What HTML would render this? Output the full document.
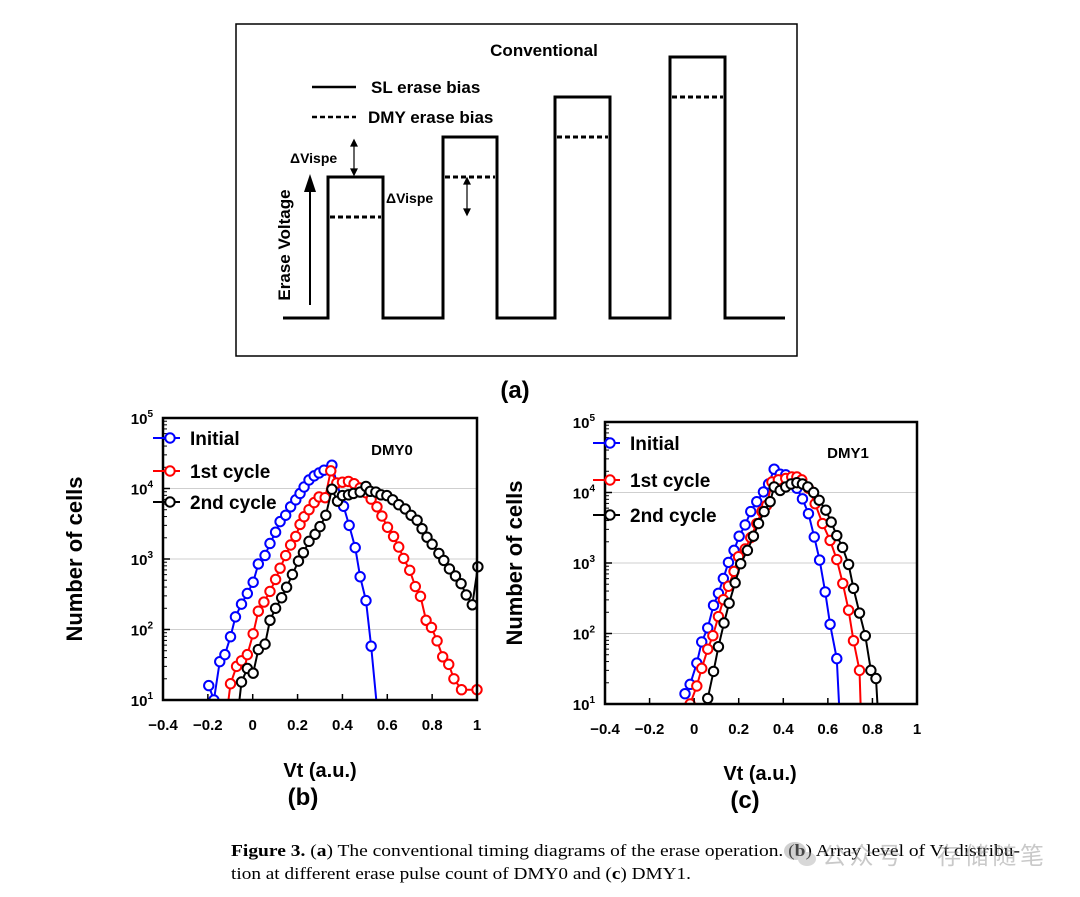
<!DOCTYPE html>
<html><head><meta charset="utf-8"><style>
html,body{margin:0;padding:0;background:#fff;width:1080px;height:897px;overflow:hidden}
svg text{font-family:"Liberation Sans",sans-serif}
</style></head><body>
<svg id="fig" width="1080" height="897" viewBox="0 0 1080 897" xmlns="http://www.w3.org/2000/svg">
<g id="diagram">
  <rect x="236" y="24" width="561" height="332" fill="none" stroke="#000" stroke-width="1.5"/>
  <text x="544" y="56" text-anchor="middle" font-weight="bold" font-size="17">Conventional</text>
  <line x1="312" y1="87" x2="356" y2="87" stroke="#000" stroke-width="2.5"/>
  <text x="371" y="93" font-weight="bold" font-size="17">SL erase bias</text>
  <line x1="312" y1="117" x2="356" y2="117" stroke="#000" stroke-width="2.5" stroke-dasharray="5,3"/>
  <text x="368" y="123" font-weight="bold" font-size="17">DMY erase bias</text>
  <path d="M283 318 H328 V177 H383 V318 H443 V137 H497 V318 H555 V97 H610 V318 H670 V57 H725 V318 H785" fill="none" stroke="#000" stroke-width="3"/>
  <g stroke="#000" stroke-width="3" stroke-dasharray="5,3">
    <line x1="330" y1="217" x2="381" y2="217"/><line x1="445" y1="177" x2="495" y2="177"/>
    <line x1="557" y1="137" x2="608" y2="137"/><line x1="672" y1="97" x2="723" y2="97"/>
  </g>
  <line x1="310" y1="305" x2="310" y2="190" stroke="#000" stroke-width="2"/>
  <polygon points="304,192 316,192 310,174" fill="#000"/>
  <text transform="translate(290,245) rotate(-90)" text-anchor="middle" font-weight="bold" font-size="17">Erase Voltage</text>
  <text x="290" y="163" font-weight="bold" font-size="14">ΔVispe</text>
  <text x="386" y="203" font-weight="bold" font-size="14">ΔVispe</text>
  <g stroke="#000" stroke-width="1.2" fill="#000">
    <line x1="354" y1="142" x2="354" y2="173"/><polygon points="351,146 357,146 354,140"/><polygon points="351,169 357,169 354,175"/>
    <line x1="467" y1="180" x2="467" y2="213"/><polygon points="464,184 470,184 467,178"/><polygon points="464,209 470,209 467,215"/>
  </g>
  <text x="515" y="398" text-anchor="middle" font-weight="bold" font-size="24">(a)</text>
</g>
<g id="plotB"></g>
<g id="plotC"></g>
<g>
  <text x="231" y="856" font-size="17" textLength="789" lengthAdjust="spacingAndGlyphs" style="font-family:'Liberation Serif',serif"><tspan font-weight="bold">Figure 3.</tspan> (<tspan font-weight="bold">a</tspan>) The conventional timing diagrams of the erase operation. (<tspan font-weight="bold">b</tspan>) Array level of Vt distribu-</text>
  <text x="231" y="879" font-size="17" textLength="460" lengthAdjust="spacingAndGlyphs" style="font-family:'Liberation Serif',serif">tion at different erase pulse count of DMY0 and (<tspan font-weight="bold">c</tspan>) DMY1.</text>
</g>
<g opacity="0.45">
  <ellipse cx="795" cy="851" rx="11" ry="9" fill="#999"/><ellipse cx="807" cy="859" rx="9" ry="7" fill="#aaa"/>
  <text x="822" y="864" font-size="24" fill="#888" textLength="222" style="font-family:'Liberation Sans','Noto Sans CJK SC',sans-serif">公众号 · 存储随笔</text>
</g>
</svg>
<script>
const xTicks = [-0.4,-0.2,0,0.2,0.4,0.6,0.8,1];
const xTickLabels = ["\u22120.4","\u22120.2","0","0.2","0.4","0.6","0.8","1"];
const yTickExps = [1,2,3,4,5];
const seriesNames = ["Initial","1st  cycle","2nd cycle"];
const seriesColors = ["#0000ff","#ff0000","#000000"];

const b0x = [-0.196,-0.173,-0.147,-0.124,-0.099,-0.077,-0.050,-0.024,0.002,0.025,0.055,0.077,0.102,0.122,0.147,0.169,0.192,0.211,0.229,0.251,0.274,0.296,0.318,0.353,0.405,0.430,0.457,0.479,0.505,0.528];
const b0y = [16,10,35,44,79,151,229,324,468,851,1122,1660,2400,3390,4170,5500,6900,8500,10500,13200,15100,16600,18200,21400,5600,3000,1450,560,257,58];
const b0tailX = 0.56, b0tailY = 5;
const b1x = [-0.099,-0.072,-0.050,-0.024,0.002,0.025,0.050,0.077,0.102,0.122,0.147,0.169,0.192,0.211,0.229,0.251,0.274,0.296,0.323,0.348,0.375,0.400,0.427,0.452,0.479,0.505,0.528,0.554,0.576,0.601,0.628,0.651,0.673,0.700,0.725,0.748,0.773,0.797,0.822,0.847,0.874,0.897,0.931,1.0];
const b1y = [17,30,36,44,87,182,245,347,513,741,1120,1580,2090,3090,3980,5010,6310,7590,7410,17800,12000,12300,12600,11700,10200,8710,7080,5500,4070,2820,2090,1480,1020,692,407,295,135,107,69,41,32,20,14,14];
const b2x = [-0.050,-0.024,0.002,0.025,0.055,0.077,0.102,0.129,0.151,0.177,0.204,0.226,0.251,0.278,0.300,0.326,0.353,0.378,0.400,0.427,0.449,0.479,0.505,0.524,0.549,0.572,0.598,0.624,0.651,0.680,0.706,0.733,0.755,0.777,0.800,0.830,0.852,0.877,0.904,0.929,0.952,0.979,1.004];
const b2y = [18,28,24,52,62,135,200,282,398,603,933,1230,1780,2240,2880,4170,9770,6610,7940,8130,8510,8910,10700,9120,8910,8130,7940,6920,5890,5130,4170,3550,2690,2040,1620,1200,955,724,575,447,309,224,776];
const bHeadX = [null,-0.12,-0.07], bHeadY = [null,5,5];

const c0x = [-0.041,-0.018,0.012,0.034,0.061,0.087,0.109,0.131,0.154,0.179,0.202,0.229,0.254,0.281,0.311,0.334,0.359,0.386,0.411,0.438,0.461,0.486,0.513,0.539,0.563,0.588,0.610,0.640];
const c0y = [14,19,38,76,120,251,372,603,1020,1510,2400,3470,5370,7410,10200,13200,21400,18200,17800,16200,11500,8130,5010,2340,1100,389,135,44];
const c1x = [-0.018,0.012,0.034,0.061,0.084,0.109,0.131,0.154,0.179,0.199,0.229,0.254,0.281,0.304,0.326,0.349,0.378,0.411,0.438,0.461,0.483,0.513,0.543,0.576,0.610,0.640,0.667,0.693,0.715,0.742];
const c1y = [10,18,32,60,93,174,302,468,759,1230,1580,2290,3630,5370,6610,14100,15100,15800,16600,16600,15100,11500,6920,3630,2090,1120,513,214,79,30];
const c2x = [0.061,0.087,0.109,0.134,0.157,0.184,0.209,0.239,0.266,0.289,0.314,0.341,0.359,0.386,0.411,0.435,0.461,0.486,0.510,0.536,0.561,0.591,0.615,0.640,0.666,0.693,0.715,0.742,0.768,0.793,0.816];
const c2y = [12,29,65,141,269,525,977,1510,2400,3630,5370,7410,12000,10700,12000,13200,13800,13200,12000,10000,7760,5620,3800,2450,1660,955,437,195,93,30,23];
const cTailX = [0.655,0.75,0.828], cTailY = [5,5,5];

const NS = "http://www.w3.org/2000/svg";
function mk(tag, attrs, parent){const e=document.createElementNS(NS,tag);for(const k in attrs)e.setAttribute(k,attrs[k]);parent.appendChild(e);return e;}

function drawChart(g, id, L, R, T, B, series, title, legendYs, legendX, titlePos, yLabelX, xLabelPos, panelLabel, panelPos){
  const xs = v => L + (v + 0.4) / 1.4 * (R - L);
  const ys = v => B - (Math.log10(v) - 1) / 4 * (B - T);
  for(const e of [2,3,4]){
    const l = mk('line',{x1:L,x2:R,y1:ys(Math.pow(10,e)),y2:ys(Math.pow(10,e)),stroke:'#cfcfcf','stroke-width':1},g);
    
    
  }
  const cp = mk('clipPath',{id:'clip'+id},g); mk('rect',{x:L,y:T-10,width:R-L+8,height:B-T+10},cp);
  const dg = mk('g',{'clip-path':'url(#clip'+id+')'},g);
  series.forEach((s,i)=>{
    let pts = s.x.map((v,j)=>[xs(v),ys(s.y[j])]);
    if(s.hx!=null) pts.unshift([xs(s.hx),ys(s.hy)]);
    if(s.tx!=null) pts.push([xs(s.tx),ys(s.ty)]);
    const p = mk('polyline',{points:pts.map(q=>q.join(',')).join(' '),fill:'none',stroke:seriesColors[i],'stroke-width':2},dg);
    
    
    s.x.forEach((v,j)=>{
      const c = mk('circle',{cx:xs(v),cy:ys(s.y[j]),r:4.7,fill:'#fff',stroke:seriesColors[i],'stroke-width':2},dg);
      
      
    });
  });
  const fr = mk('rect',{x:L,y:T,width:R-L,height:B-T,fill:'none',stroke:'#000','stroke-width':2.5},g);
  
  
  yTickExps.forEach(e=>{
    const y = ys(Math.pow(10,e));
    mk('line',{x1:L,x2:L+7,y1:y,y2:y,stroke:'#000','stroke-width':1.5},g);
    if(e<5) for(let m=2;m<10;m++){const yy=ys(m*Math.pow(10,e)); mk('line',{x1:L,x2:L+4,y1:yy,y2:yy,stroke:'#000','stroke-width':1},g);}
    const t = mk('text',{x:L-10,y:y+6,'text-anchor':'end','font-size':15,'font-weight':'bold'},g);
    
    
    t.textContent='10';
    const sp = mk('tspan',{dy:-7,'font-size':10},t); sp.textContent=String(e);
  });
  xTicks.forEach((v,j)=>{
    const x = xs(v);
    mk('line',{x1:x,x2:x,y1:B,y2:B-6,stroke:'#000','stroke-width':1.5},g);
    const t = mk('text',{x:x,y:B+30,'text-anchor':'middle','font-size':15,'font-weight':'bold'},g);
    
    
    t.textContent = xTickLabels[j];
  });
  seriesNames.forEach((n,i)=>{
    const y = legendYs[i];
    mk('line',{x1:legendX-17,x2:legendX+10,y1:y,y2:y,stroke:seriesColors[i],'stroke-width':2},g);
    mk('circle',{cx:legendX,cy:y,r:4.7,fill:'#fff',stroke:seriesColors[i],'stroke-width':2},g);
    const t = mk('text',{x:legendX+20,y:y+7,'font-size':19,'font-weight':'bold'},g);
    
    
    t.textContent = n;
  });
  const tt = mk('text',{x:titlePos[0],y:titlePos[1],'text-anchor':'middle','font-size':15,'font-weight':'bold'},g);
  
  
  tt.textContent = title;
  const yl = mk('text',{transform:`translate(${yLabelX},${(T+B)/2}) rotate(-90)`,'text-anchor':'middle','font-size':22,'font-weight':'bold'},g);
  
  
  yl.textContent='Number of cells';
  const xl = mk('text',{x:xLabelPos[0],y:xLabelPos[1],'text-anchor':'middle','font-size':20,'font-weight':'bold'},g);
  
  
  xl.textContent='Vt (a.u.)';
  const pl = mk('text',{x:panelPos[0],y:panelPos[1],'text-anchor':'middle','font-size':24,'font-weight':'bold'},g);
  
  
  pl.textContent=panelLabel;
}

drawChart(document.getElementById('plotB'),'B',163,477,418,700,[
  {x:b0x,y:b0y,tx:b0tailX,ty:b0tailY},
  {x:b1x,y:b1y,hx:bHeadX[1],hy:bHeadY[1]},
  {x:b2x,y:b2y,hx:bHeadX[2],hy:bHeadY[2]}
],'DMY0',[438,471,502],170,[392,455],82,[320,777],'(b)',[303,805]);

drawChart(document.getElementById('plotC'),'C',605,917,422,704,[
  {x:c0x,y:c0y,tx:cTailX[0],ty:cTailY[0]},
  {x:c1x,y:c1y,tx:cTailX[1],ty:cTailY[1]},
  {x:c2x,y:c2y,tx:cTailX[2],ty:cTailY[2]}
],'DMY1',[443,480,515],610,[848,458],522,[760,780],'(c)',[745,808]);
</script>
</body></html>
